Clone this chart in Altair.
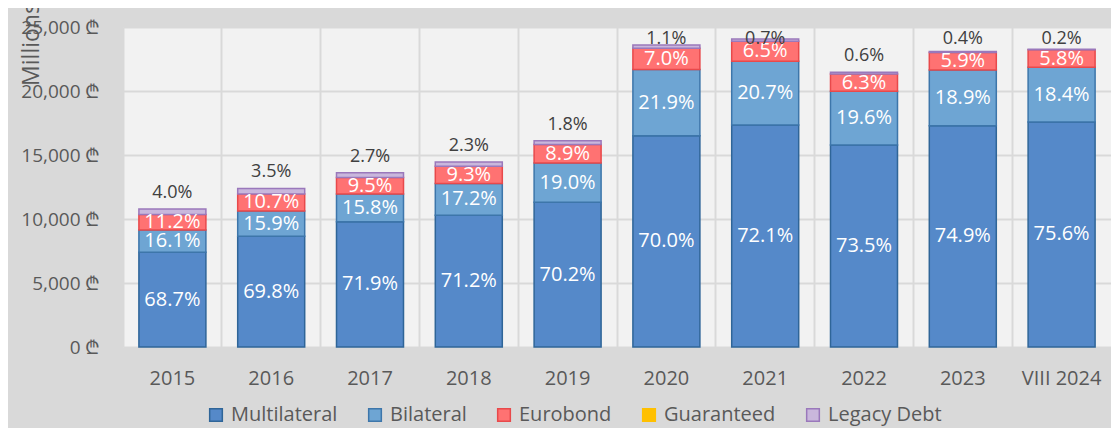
import altair as alt
import pandas as pd

years = ["2015", "2016", "2017", "2018", "2019", "2020", "2021", "2022", "2023", "VIII 2024"]
totals = [10780, 12400, 13620, 14450, 16120, 23590, 24060, 21460, 23070, 23260]
series = ["Multilateral", "Bilateral", "Eurobond", "Guaranteed", "Legacy Debt"]
pct_multilateral = [68.7, 69.8, 71.9, 71.2, 70.2, 70.0, 72.1, 73.5, 74.9, 75.6]
pct_bilateral = [16.1, 15.9, 15.8, 17.2, 19.0, 21.9, 20.7, 19.6, 18.9, 18.4]
pct_eurobond = [11.2, 10.7, 9.5, 9.3, 8.9, 7.0, 6.5, 6.3, 5.9, 5.8]
pct_guaranteed = [0.0, 0.0, 0.0, 0.0, 0.0, 0.0, 0.0, 0.0, 0.0, 0.0]
pct_legacy = [4.0, 3.5, 2.7, 2.3, 1.8, 1.1, 0.7, 0.6, 0.4, 0.2]
y_ticks = [0, 5000, 10000, 15000, 20000, 25000]

fills = ["#5589c9", "#6ea5d3", "#ff7272", "#ffc000", "#c9b7dc"]
strokes = ["#2f6598", "#3d76aa", "#e8494b", "#ffc000", "#9a78bb"]

pcts = [pct_multilateral, pct_bilateral, pct_eurobond, pct_guaranteed, pct_legacy]

rows = []
for i, yr in enumerate(years):
    cum = 0.0
    for k, s in enumerate(series):
        p = pcts[k][i]
        v = totals[i] * p / 100.0
        rows.append({
            "year": yr, "series": s, "order": k, "pct": p,
            "start": cum, "end": cum + v, "mid": cum + v / 2,
            "label": f"{p:.1f}%",
        })
        cum += v
df = pd.DataFrame(rows)
bars_df = df[df["end"] > df["start"]]
inner_df = df[df["series"].isin(["Multilateral", "Bilateral", "Eurobond"])]
top_df = df[df["series"] == "Legacy Debt"].copy()

FONT = "Open Sans"
GREY = "#595959"

x_enc = alt.X(
    "year:N", sort=years,
    scale=alt.Scale(paddingInner=0, paddingOuter=0),
    axis=alt.Axis(title=None, labelAngle=0, domain=False, ticks=False, grid=True,
                  bandPosition=0, gridColor="#d9d9d9", gridWidth=2,
                  labelFontSize=20, labelColor=GREY, labelFont=FONT, labelPadding=21),
)

legend_kw = dict(title=None, orient="none", legendX=83, legendY=378, direction="horizontal",
                 symbolType="square", symbolSize=160, symbolStrokeWidth=1.5,
                 labelFontSize=20, labelFont=FONT, labelColor=GREY,
                 columnPadding=27, labelOffset=5, padding=0)

bars = alt.Chart(bars_df).mark_bar(size=67, strokeWidth=1.5).encode(
    x=x_enc,
    y=alt.Y("start:Q", scale=alt.Scale(domain=[0, 25000], nice=False),
            axis=alt.Axis(values=y_ticks, labelExpr="format(datum.value, ',') + ' ₾'",
                          title="Millions", titleX=-80, titleY=17, titleFontSize=23,
                          titleFont=FONT, titleColor=GREY, titleFontWeight="normal",
                          domain=False, ticks=False, gridColor="#d9d9d9", gridWidth=2,
                          labelFontSize=19, labelFont=FONT, labelColor=GREY, labelPadding=23)),
    y2="end:Q",
    color=alt.Color("series:N", scale=alt.Scale(domain=series, range=fills),
                    legend=alt.Legend(**legend_kw)),
    stroke=alt.Stroke("series:N", scale=alt.Scale(domain=series, range=strokes),
                      legend=alt.Legend(**legend_kw)),
)

inner_text = alt.Chart(inner_df).mark_text(
    color="white", fontSize=20, font=FONT, baseline="middle"
).encode(
    x=alt.X("year:N", sort=years),
    y=alt.Y("mid:Q"),
    text="label:N",
)

top_text = alt.Chart(top_df).transform_calculate(
    ypos="min(datum.end + 1250, 24100)"
).mark_text(
    color="#404040", fontSize=18, font=FONT, baseline="middle"
).encode(
    x=alt.X("year:N", sort=years),
    y=alt.Y("ypos:Q"),
    text="label:N",
)

chart = alt.layer(bars, inner_text, top_text).properties(
    width=988, height=320,
    padding={"left": 115, "top": 19, "right": 0, "bottom": 81},
    autosize=alt.AutoSizeParams(type="none"),
    background="#d9d9d9",
).configure_view(fill="#f2f2f2", stroke="transparent")

chart.save("out.html", embed_options={"renderer": "svg", "actions": False})
